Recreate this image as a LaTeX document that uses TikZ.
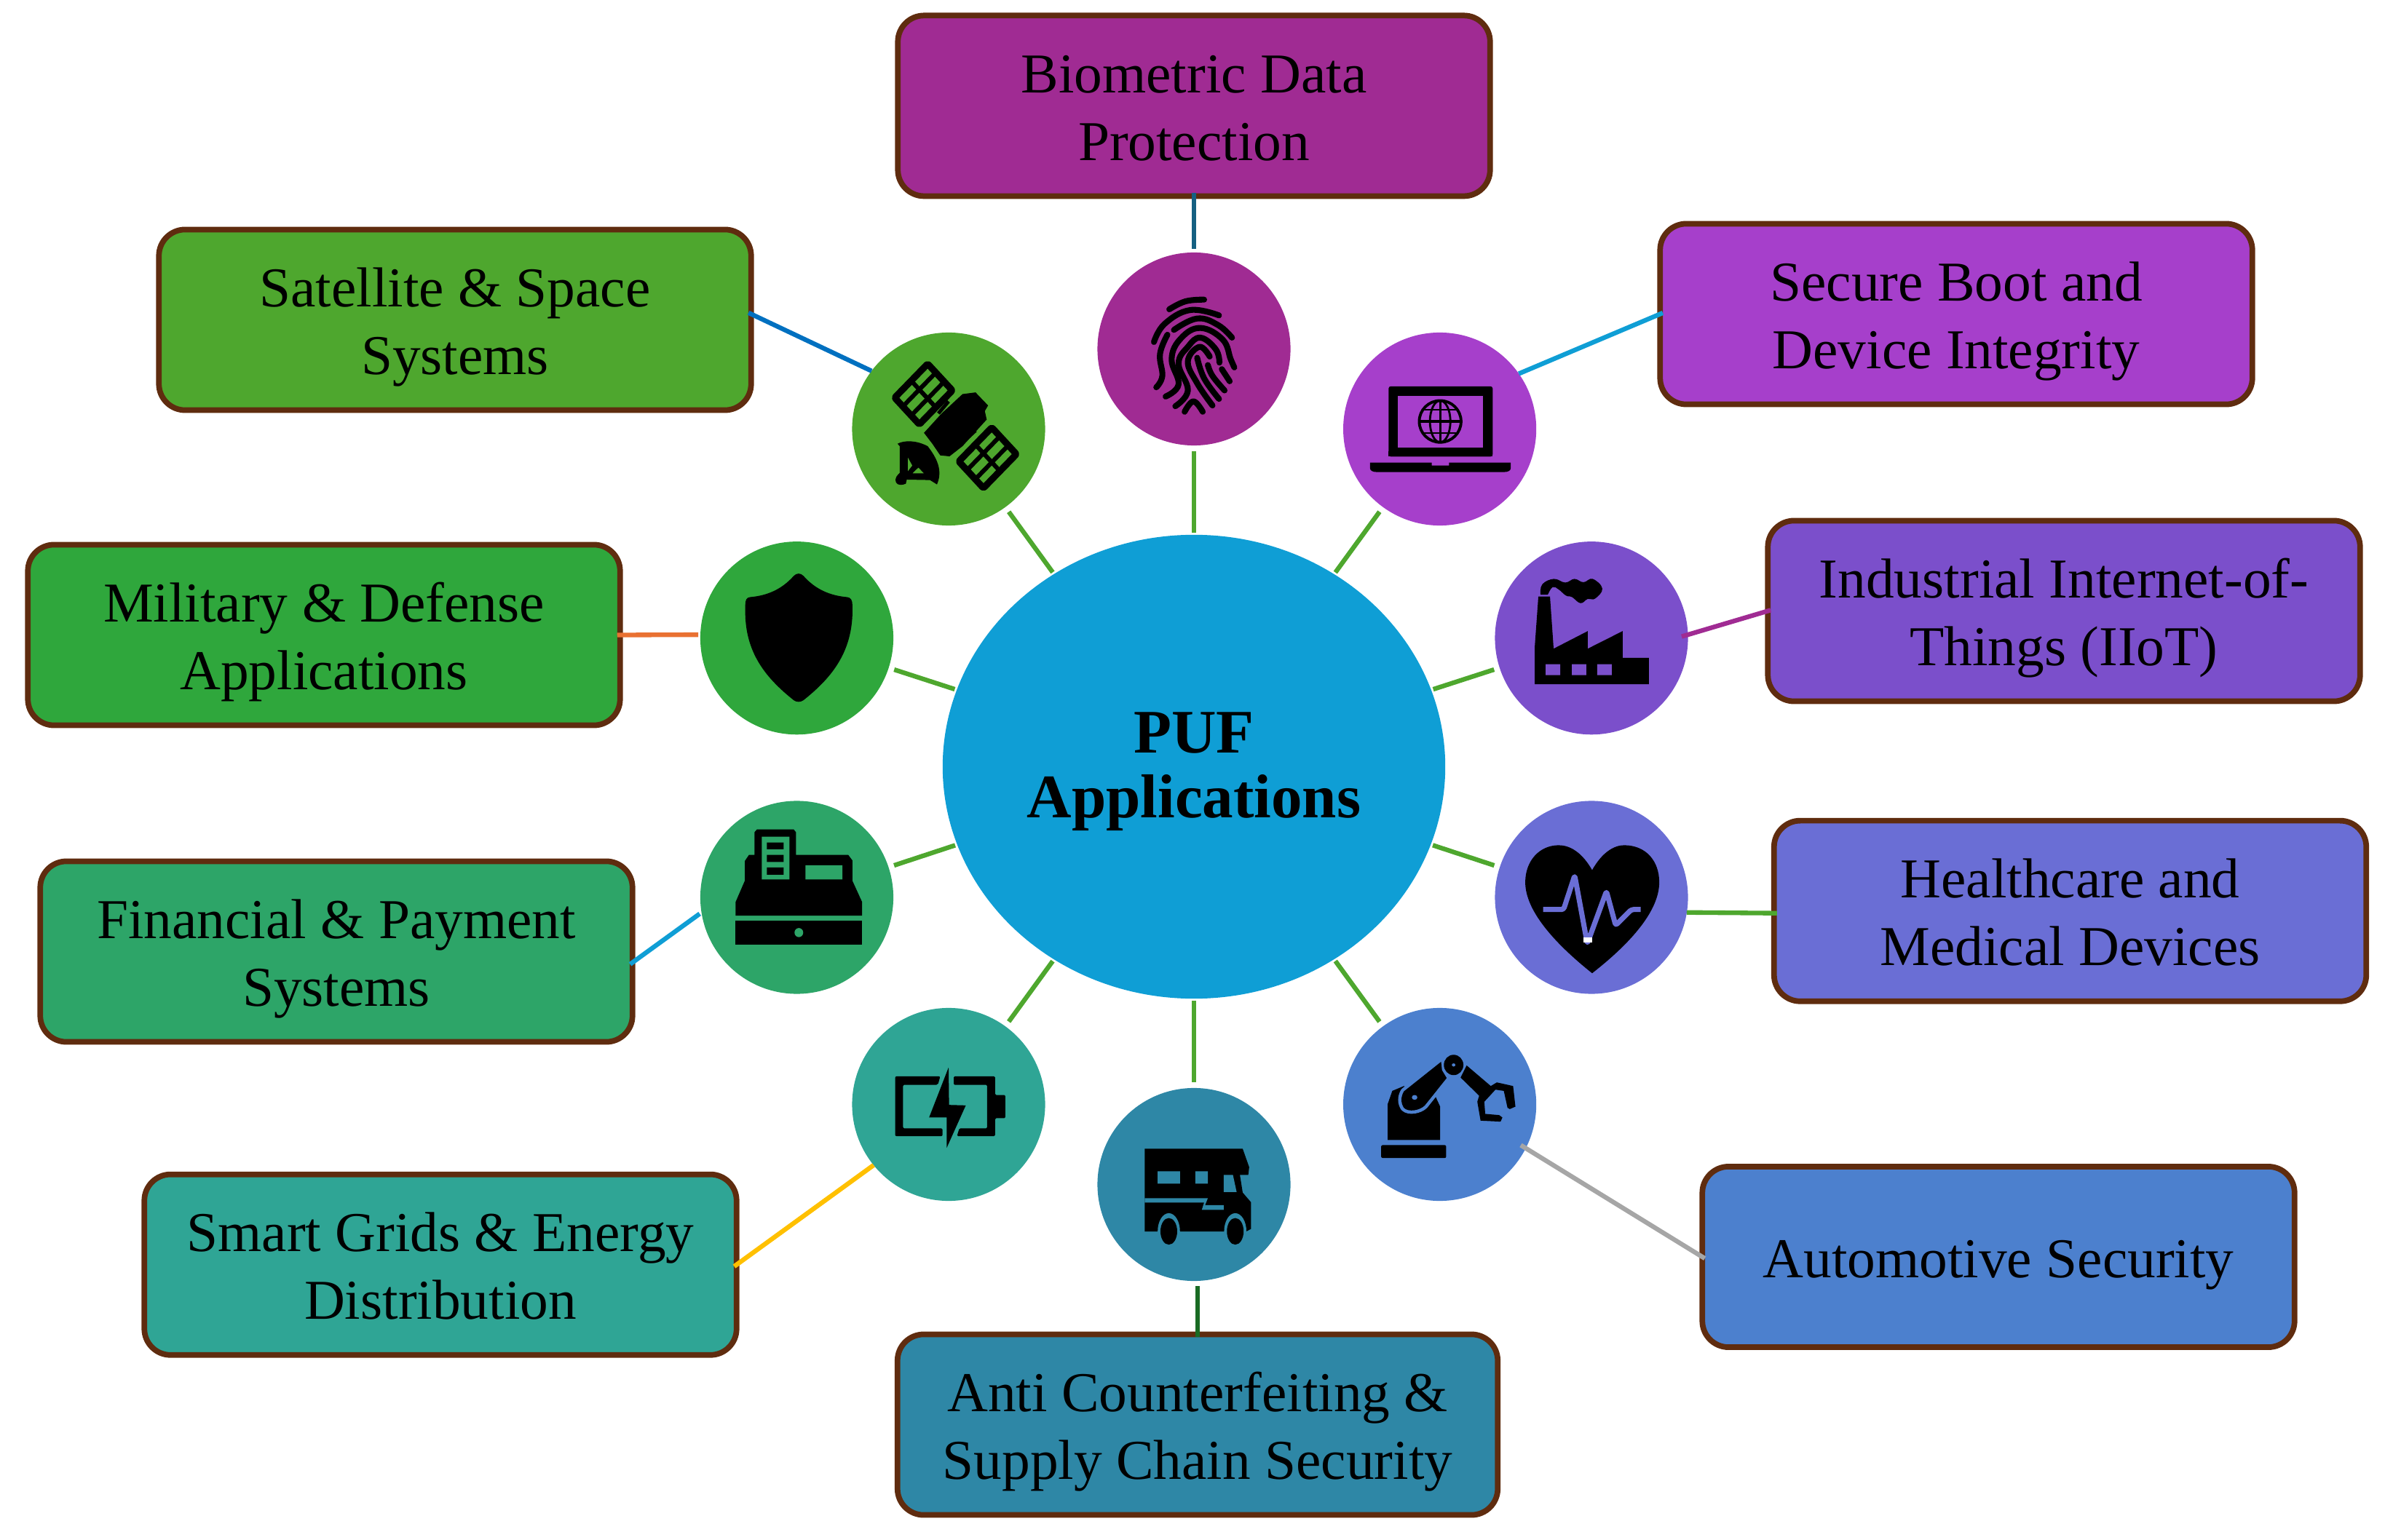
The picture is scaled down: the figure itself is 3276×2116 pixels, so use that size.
\documentclass[tikz,border=0pt]{standalone}
\usepackage{fontspec}
\setmainfont{Liberation Serif}
\usetikzlibrary{shapes.geometric,calc}
\definecolor{cC}{HTML}{0F9ED5}
\definecolor{cBio}{HTML}{A02B93}
\definecolor{cSat}{HTML}{4EA72E}
\definecolor{cSec}{HTML}{A63FCB}
\definecolor{cInd}{HTML}{7B4FCB}
\definecolor{cMil}{HTML}{2FA73C}
\definecolor{cFin}{HTML}{2DA568}
\definecolor{cHea}{HTML}{6A6ED5}
\definecolor{cSma}{HTML}{2FA595}
\definecolor{cAut}{HTML}{4C80CE}
\definecolor{cAnt}{HTML}{2E87A6}
\definecolor{cBord}{HTML}{5F2C0F}
\definecolor{cBioL}{HTML}{156082}
\definecolor{cSatL}{HTML}{0070C0}
\definecolor{cMilL}{HTML}{E97132}
\definecolor{cSmaL}{HTML}{FFC000}
\definecolor{cAutL}{HTML}{A6A6A6}
\definecolor{cAntL}{HTML}{196B24}
% last baseline set a fixed distance below the node's centre
\newcommand\txtb[2]{\raisebox{#1}[0pt][0pt]{\begin{tabular}[b]{@{}c@{}}#2\end{tabular}}}
\newcommand\txtt[1]{\txtb{-0.75cm}{#1}}
\tikzset{
 lbl/.style={rectangle,rounded corners=0.36cm,draw=cBord,line width=2.2pt,minimum width=8.13cm,minimum height=2.48cm,inner sep=0pt,outer sep=0pt,text=black,font=\fontsize{22}{26.55}\selectfont},
 ico/.style={circle,minimum size=2.65cm,inner sep=0pt,outer sep=0pt},
 spoke/.style={draw=cSat,line width=1.8pt,shorten <=0.03cm,shorten >=0.08cm},
 link/.style={line width=1.8pt,shorten <=-0.04cm},
 zoomA/.style={x=0.0063776cm,y=-0.0033333cm},
 zoomB/.style={x=0.0033333cm,y=-0.0041667cm},
 ridge/.style={draw=black,line width=2.3pt,line cap=round,line join=round,smooth,tension=0.7},
}
\begin{document}
\begin{tikzpicture}[x=0.01cm,y=-0.01cm]
\useasboundingbox (0,0) rectangle (3276,2116);
% hub
\node[ellipse,fill=cC,minimum width=6.9cm,minimum height=6.37cm,inner sep=0pt,outer sep=0pt,font=\fontsize{24.2}{25.3}\selectfont\bfseries] (hub) at (1640,1053.5) {\txtb{-0.698cm}{PUF\\Applications}};
% circles
\node[ico,fill=cBio] (fp) at (1640,479.5) {};
\node[ico,fill=cSat] (sat) at (1303,589.5) {};
\node[ico,fill=cSec] (lap) at (1977.6,589.5) {};
\node[ico,fill=cMil] (shd) at (1094.5,876.7) {};
\node[ico,fill=cInd] (fac) at (2186,876.7) {};
\node[ico,fill=cFin] (csh) at (1094.5,1233) {};
\node[ico,fill=cHea] (hrt) at (2186,1233) {};
\node[ico,fill=cSma] (bat) at (1303,1517.5) {};
\node[ico,fill=cAut] (rob) at (1977.6,1517.5) {};
\node[ico,fill=cAnt] (trk) at (1640,1627.5) {};
% boxes
\node[lbl,fill=cBio] (bioB) at (1640,145.4) {\txtt{Biometric Data\\Protection}};
\node[lbl,fill=cSat] (satB) at (625,439.5) {\txtt{Satellite \& Space\\Systems}};
\node[lbl,fill=cSec] (secB) at (2687,431.5) {\txtt{Secure Boot and\\Device Integrity}};
\node[lbl,fill=cInd] (indB) at (2835,839.5) {\txtt{Industrial Internet-of-\\Things (IIoT)}};
\node[lbl,fill=cMil] (milB) at (445,872.5) {\txtt{Military \& Defense\\Applications}};
\node[lbl,fill=cFin] (finB) at (462,1307.5) {\txtt{Financial \& Payment\\Systems}};
\node[lbl,fill=cHea] (heaB) at (2843.5,1251.7) {\txtt{Healthcare and\\Medical Devices}};
\node[lbl,fill=cSma] (smaB) at (605,1737.7) {\txtt{Smart Grids \& Energy\\Distribution}};
\node[lbl,fill=cAut] (autB) at (2745,1727) {\txtb{-0.287cm}{Automotive Security}};
\node[lbl,fill=cAnt,minimum width=8.24cm] (antB) at (1645,1957.5) {\txtt{Anti Counterfeiting \&\\Supply Chain Security}};
% spokes
\foreach \n in {fp,sat,lap,shd,fac,csh,hrt,bat,rob,trk}{\draw[spoke] (hub) -- (\n);}
% links
\draw[link,draw=cBioL,shorten >=0.05cm] (bioB.south) -- (fp.north);
\draw[link,draw=cSatL] ([yshift=0.08cm]satB.east) -- (sat.143);
\draw[link,draw=cC] (secB.west) -- (lap.35);
\draw[link,draw=cBio,shorten >=-0.09cm] (indB.west) -- (fac.2);
\draw[link,draw=cMilL,shorten >=0.03cm] (milB.east) -- (shd.178.4);
\draw[link,draw=cC,shorten >=0.03cm] ([yshift=-0.15cm]finB.east) -- (csh.189.3);
\draw[link,draw=cSat] ([yshift=-0.03cm]heaB.west) -- (hrt.-9.4);
\draw[link,draw=cSmaL] (smaB.east) -- (bat.219.4);
\draw[link,draw=cAutL,shorten >=-0.08cm] (autB.west) -- (rob.-27.7);
\draw[link,draw=cAntL,shorten >=0.07cm] (antB.north) -- (antB.north |- trk.south);
% ---- icons: zoomA (origin 1130,320)
\begin{scope}[shift={(11.30cm,-3.20cm)},zoomA]
 % fingerprint
 \draw[ridge] plot coordinates {(745,315)(780,282)(820,275)};
 \draw[ridge] plot coordinates {(712,450)(735,375)(790,318)(852,340)};
 \draw[ridge] plot coordinates {(755,400)(805,353)(850,380)(880,432)};
 \draw[ridge] plot coordinates {(741,420)(725,500)(730,590)(717,637)};
 \draw[ridge] plot coordinates {(737,675)(765,625)(750,520)(770,435)(812,392)(860,440)(877,520)(885,555)};
 \draw[ridge] plot coordinates {(758,715)(785,650)(765,540)(785,470)(812,432)(845,480)(853,535)};
 \draw[ridge] plot coordinates {(838,712)(805,620)(785,530)(810,470)(832,510)};
 \draw[ridge] plot coordinates {(852,685)(820,600)(805,515)};
 \draw[ridge] plot coordinates {(864,650)(838,590)(828,545)};
 \draw[ridge] plot coordinates {(875,612)(858,562)};
 \draw[ridge] plot coordinates {(778,738)(797,695)(817,738)};
 % satellite
 \foreach \dx/\dy in {0/0,138/263}{
  \begin{scope}[shift={(\dx,\dy)}]
   \coordinate (T) at (225,540); \coordinate (R) at (278,650); \coordinate (B) at (207,790); \coordinate (L) at (154,680);
   \draw[line width=2.6pt,draw=black,fill=cSat,line join=round,rounded corners=0.02cm] (T)--(R)--(B)--(L)--cycle;
   \draw[line width=1.7pt] ($(T)!.5!(L)$) -- ($(R)!.5!(B)$);
   \draw[line width=1.7pt] ($(T)!.33!(R)$) -- ($(L)!.33!(B)$);
   \draw[line width=1.7pt] ($(T)!.67!(R)$) -- ($(L)!.67!(B)$);
  \end{scope}}
 \fill[black] (300,665)--(328,658)--(355,712)--(348,735)--(352,770)--(300,880)--(272,922)--(252,918)--(235,870)--(217,825)--(255,745)--cycle;
 \draw[line width=1.4pt] (270,695) -- (248,745) (328,815) -- (300,865);
 \fill[black,even odd rule] (160,870) .. controls (175,855) and (200,855) .. (225,880) .. controls (245,930) and (258,980) .. (245,1038) -- (230,1020) -- (180,1018) -- (178,1035) .. controls (170,1042) and (160,1042) .. (157,1030) .. controls (153,1010) and (160,1000) .. (165,990) -- (165,880) -- cycle
   (182,925)--(192,960)--(182,985)--cycle (192,992)--(217,992)--(205,968)--cycle;
 % laptop
 \fill[black,rounded corners=0.03cm] (1217,923)--(1217,633)--(1441,633)--(1441,923)--cycle;
 \fill[black] (1217,900) rectangle (1441,923);
 \fill[cSec] (1237,672) rectangle (1420,885);
 \draw[line width=1.1pt] (1328,778) ellipse [x radius=45,y radius=86];
 \draw[line width=.8pt] (1328,778) ellipse [x radius=22,y radius=86];
 \draw[line width=.8pt] (1328,692) -- (1328,864);
 \draw[line width=1.1pt] (1282,778) -- (1374,778);
 \draw[line width=.7pt] (1290,730) -- (1366,730) (1290,826) -- (1366,826);
 \fill[black] (1177,948) -- (1310,948) -- (1310,960) -- (1347,960) -- (1347,948) -- (1480,948) -- (1480,970) .. controls (1480,980) and (1475,987) .. (1465,987) -- (1192,987) .. controls (1182,987) and (1177,980) .. (1177,970) -- cycle;
\end{scope}
\begin{scope}[shift={(11.30cm,-13.50cm)},zoomA]
 % battery
 \fill[black,rounded corners=0.02cm] (155,385)--(252,385)--(247,420)--(172,420)--(172,600)--(257,600)--(257,632)--(155,632)--cycle;
 \fill[black,rounded corners=0.015cm] (281,385)--(370,385)--(370,462)--(392,462)--(392,558)--(370,558)--(370,632)--(288,632)--(293,600)--(353,600)--(353,420)--(281,420)--cycle;
 \fill[black] (270,348)--(228,555)--(266,555)--(266,680)--(307,505)--(271,503)--cycle;
 % truck
 \fill[black] (692,684)--(903,684)--(917,760)--(915,792)--(897,792)--(903,865)--(921,905)--(921,1015)--(910,1026)--(692,1026)--cycle;
 \fill[cAnt] (720,777) rectangle (768,828) (801,777) rectangle (828,828);
 \fill[cAnt] (862,792)--(882,792)--(890,863)--(862,863)--cycle;
 \fill[cAnt] (692,888)--(828,888)--(822,917)--(862,917)--(862,936)--(815,936)--(820,906)--(692,906)--cycle;
 \fill[cAnt] (744,1025) ellipse [x radius=24,y radius=75] (887,1025) ellipse [x radius=24,y radius=75];
 \fill[black] (744,1025) ellipse [x radius=18,y radius=55] (887,1025) ellipse [x radius=18,y radius=55];
 % robot
 \fill[black,rounded corners=0.02cm] (1201,722)--(1201,669)--(1341,669)--(1341,722)--cycle;
 \fill[black] (1215,648)--(1328,648)--(1328,510)--(1318,468)--(1290,480)--(1250,425)--(1225,445)--(1215,500)--cycle;
 \path[draw=cAut,fill=black,line width=2.6pt,line join=round] (1330,325)--(1332,360)--(1342,392)--(1295,505) .. controls (1285,525) and (1260,535) .. (1250,515) .. controls (1243,495) and (1243,470) .. (1250,447)--cycle;
 \fill[black] (1330,325)--(1332,360)--(1342,392)--(1295,505) .. controls (1285,525) and (1260,535) .. (1250,515) .. controls (1243,495) and (1243,470) .. (1250,447)--cycle;
 \fill[cAut] (1273,472) ellipse [x radius=6,y radius=10];
 \fill[black,even odd rule] (1357,338) ellipse [x radius=21,y radius=42] (1357,338) ellipse [x radius=4,y radius=7];
 \fill[black,line join=round] (1385,340)--(1437,425)--(1450,410)--(1485,425)--(1490,510)--(1478,520)--(1473,515)--(1465,445)--(1447,440)--(1423,490)--(1425,540)--(1455,545)--(1462,555)--(1458,572)--(1415,568)--(1408,490)--(1412,465)--(1372,390)--cycle;
\end{scope}
\begin{scope}[shift={(9.30cm,-7.20cm)},zoomB]
 % shield
 \fill[black] (480,170) .. controls (430,215) and (370,235) .. (300,240) .. controls (285,241) and (280,250) .. (280,265) -- (280,300) .. controls (285,430) and (370,510) .. (480,580) .. controls (492,587) and (508,587) .. (520,580) .. controls (630,510) and (715,430) .. (722,300) -- (722,265) .. controls (722,250) and (715,241) .. (700,240) .. controls (630,235) and (570,215) .. (520,170) .. controls (508,160) and (492,160) .. (480,170) -- cycle;
 % cash register
 \fill[black] (240,1307) rectangle (762,1385);
 \fill[cFin] (501,1346) ellipse [x radius=18,y radius=15];
 \fill[black] (240,1290)--(240,1245)--(278,1175)--(278,1110)--(295,1090)--(318,1090)--(318,1015)--(328,1006)--(480,1006)--(489,1015)--(489,1090)--(705,1090)--(722,1108)--(722,1175)--(762,1245)--(762,1290)--cycle;
 \fill[cFin] (348,1030) rectangle (462,1171) (528,1124) rectangle (681,1171);
 \fill[black] (369,1049) rectangle (438,1071) (369,1090) rectangle (438,1113) (369,1131) rectangle (438,1155);
\end{scope}
\begin{scope}[shift={(20.30cm,-7.20cm)},zoomB]
 % factory
 \fill[black] (231,527)--(231,405)--(246,238)--(294,238)--(309,410)--(450,352)--(450,410)--(594,352)--(594,440)--(702,440)--(702,527)--cycle;
 \fill[cInd] (276,461) rectangle (336,497) (384,461) rectangle (444,497) (489,461) rectangle (549,497);
 \fill[black] (255,232) plot[smooth,tension=.7] coordinates {(255,232)(262,198)(310,180)(357,192)(395,180)(432,191)(470,180)(510,212)(480,245)(450,246)(420,260)(385,240)(360,235)(330,215)(305,207)(285,232)} -- cycle;
 % heart
 \fill[black] (468,1140) .. controls (510,1080) and (560,1058) .. (600,1058) .. controls (690,1058) and (745,1110) .. (745,1180) .. controls (745,1260) and (660,1360) .. (468,1480) .. controls (280,1360) and (192,1260) .. (192,1180) .. controls (192,1110) and (250,1058) .. (330,1058) .. controls (375,1058) and (425,1080) .. (468,1140) -- cycle;
 \draw[cHea,line width=2pt,line join=round,rounded corners=0.03cm] (266,1270)--(350,1270)--(396,1158)--(448,1382)--(527,1210)--(565,1322)--(630,1270)--(668,1270);
 \fill[white] (431,1362) rectangle (469,1378);
\end{scope}
\end{tikzpicture}
\end{document}
